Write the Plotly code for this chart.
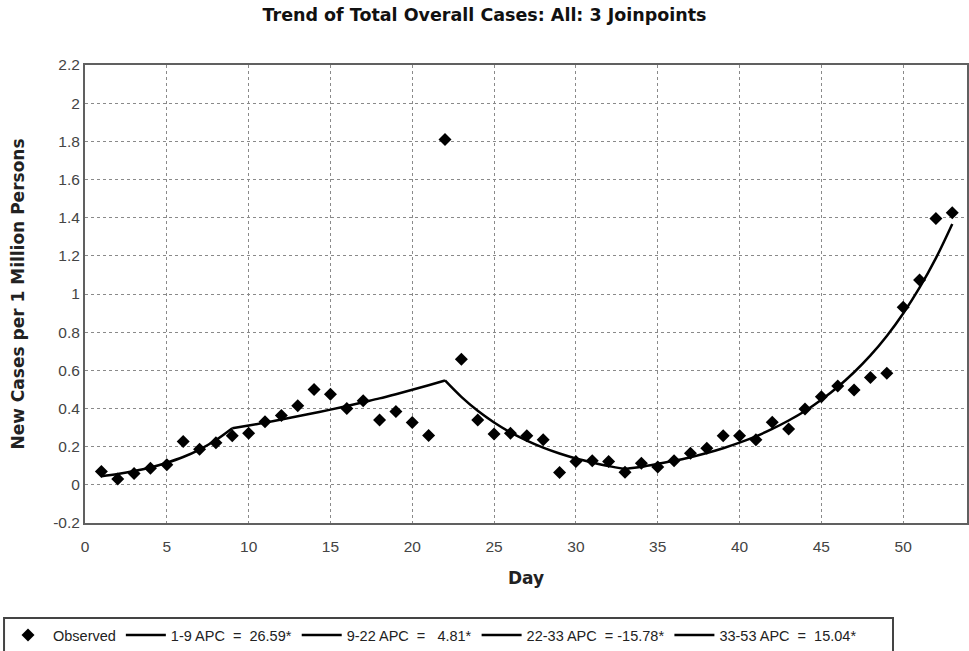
import plotly.graph_objects as go

days = list(range(1, 54))
observed = [0.07, 0.03, 0.06, 0.087, 0.105, 0.227, 0.187, 0.22, 0.257, 0.27,
            0.33, 0.363, 0.414, 0.50, 0.475, 0.40, 0.44, 0.34, 0.384, 0.326,
            0.258, 1.81, 0.658, 0.34, 0.267, 0.27, 0.257, 0.236, 0.065, 0.122,
            0.126, 0.122, 0.066, 0.113, 0.093, 0.126, 0.166, 0.192, 0.257, 0.257,
            0.236, 0.328, 0.293, 0.398, 0.462, 0.518, 0.497, 0.562, 0.585, 0.93,
            1.073, 1.396, 1.426]

fitted = [0.045, 0.057, 0.072, 0.091, 0.116, 0.146, 0.185, 0.235, 0.297,
          0.311, 0.326, 0.342, 0.359, 0.376, 0.394, 0.413, 0.433, 0.453, 0.475,
          0.498, 0.522, 0.547,
          0.461, 0.388, 0.327, 0.275, 0.232, 0.195, 0.164, 0.138, 0.117, 0.098,
          0.083,
          0.095, 0.110, 0.126, 0.145, 0.167, 0.192, 0.221, 0.254, 0.293, 0.337,
          0.387, 0.446, 0.513, 0.590, 0.678, 0.780, 0.898, 1.033, 1.188, 1.367]

segments = [(1, 9, "1-9 APC&nbsp; = &nbsp;26.59*"),
            (9, 22, "9-22 APC&nbsp; = &nbsp; 4.81*"),
            (22, 33, "22-33 APC&nbsp; = -15.78*"),
            (33, 53, "33-53 APC&nbsp; = &nbsp;15.04*")]

y_ticks = [-0.2, 0, 0.2, 0.4, 0.6, 0.8, 1, 1.2, 1.4, 1.6, 1.8, 2, 2.2]
y_labels = ["-0.2", "0", "0.2", "0.4", "0.6", "0.8", "1", "1.2", "1.4", "1.6", "1.8", "2", "2.2"]
x_ticks = [0, 5, 10, 15, 20, 25, 30, 35, 40, 45, 50]

fig = go.Figure()
fig.add_trace(go.Scatter(x=days, y=observed, mode="markers", name="Observed",
                         marker=dict(symbol="diamond", size=10, color="black")))
for a, b, label in segments:
    xs = days[a - 1:b]
    ys = fitted[a - 1:b]
    fig.add_trace(go.Scatter(x=xs, y=ys, mode="lines", name=label,
                             line=dict(color="black", width=2.5), line_shape="spline"))

# legend frame (extends below the visible page, as in the reference)
fig.add_shape(type="rect", xref="paper", yref="paper",
              x0=-0.0918, x1=0.9161, y0=-0.2074, y1=-0.40,
              line=dict(color="#444", width=2), fillcolor="white", layer="below")

font_family = "Liberation Sans, Arial, sans-serif"
bold_family = "DejaVu Sans, Verdana, sans-serif"
fig.update_layout(
    width=969, height=651,
    margin=dict(l=85, r=2, t=65, b=128, autoexpand=False),
    paper_bgcolor="white", plot_bgcolor="white",
    font=dict(family=font_family, color="#333", size=15),
    title=dict(text="<b>Trend of Total Overall Cases: All: 3 Joinpoints</b>",
               x=0.5, xanchor="center", y=0.977, yanchor="middle",
               font=dict(size=17.5, family=bold_family, color="#111")),
    xaxis=dict(range=[0, 53.9], tickvals=x_ticks, showgrid=True, gridcolor="#8a8a8a",
               griddash="dot", gridwidth=1, showline=True, linecolor="#606060", linewidth=2,
               mirror=True, ticks="", zeroline=False, automargin=False,
               ticklabelstandoff=8,
               title=dict(text="<b>Day</b>", font=dict(size=17, family=bold_family, color="#222"),
                          standoff=19),
               tickfont=dict(size=15.5, color="#444")),
    yaxis=dict(range=[-0.2, 2.2], tickvals=y_ticks, ticktext=y_labels, showgrid=True,
               gridcolor="#8a8a8a", griddash="dot", gridwidth=1, showline=True,
               linecolor="#606060", linewidth=2, mirror=True, ticks="", zeroline=False,
               automargin=False, ticklabelstandoff=0,
               title=dict(text="<b>New Cases per 1 Million Persons</b>",
                          font=dict(size=17, family=bold_family, color="#222"), standoff=24),
               tickfont=dict(size=15.5, color="#444")),
    legend=dict(orientation="h", x=-0.0930, xanchor="left", y=-0.2096, yanchor="top",
                borderwidth=0, bgcolor="rgba(0,0,0,0)",
                font=dict(size=14.5, family=font_family, color="#222"),
                itemwidth=40),
    showlegend=True,
)

fig.write_html("out.html", config={"displayModeBar": False},
               post_script="document.body.style.margin='0px';document.body.style.overflow='hidden';")
